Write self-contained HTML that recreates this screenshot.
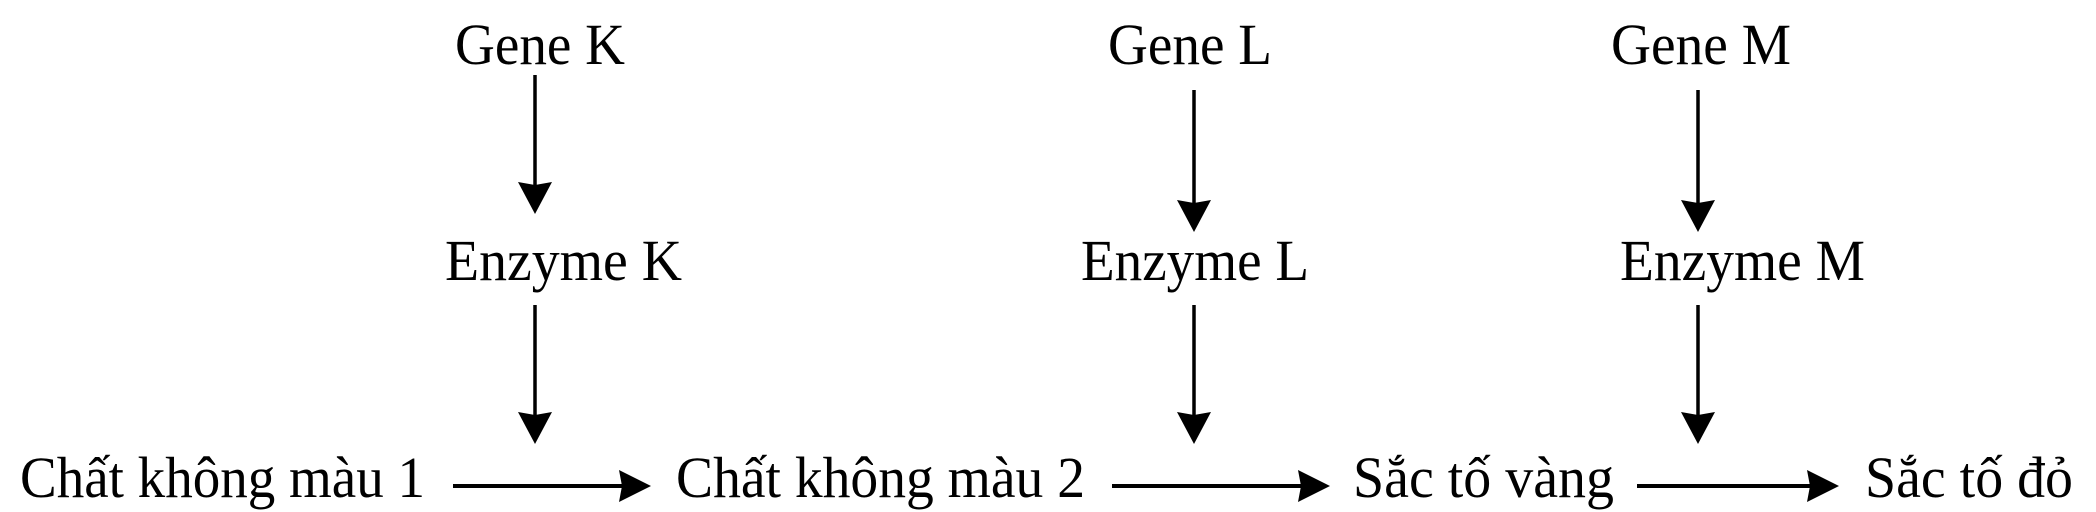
<!DOCTYPE html>
<html><head><meta charset="utf-8"><style>
html,body{margin:0;padding:0;background:#fff;}
svg{display:block;}
text{font-family:"Liberation Serif","DejaVu Serif",serif;font-size:58px;fill:#000;}
</style></head><body>
<svg width="2096" height="512" viewBox="0 0 2096 512" xmlns="http://www.w3.org/2000/svg">
<rect width="2096" height="512" fill="#fff"/>
<text x="455" y="64" textLength="170" lengthAdjust="spacingAndGlyphs">Gene K</text>
<text x="1108" y="64" textLength="164" lengthAdjust="spacingAndGlyphs">Gene L</text>
<text x="1611" y="64" textLength="180" lengthAdjust="spacingAndGlyphs">Gene M</text>
<text x="445" y="280" textLength="237" lengthAdjust="spacingAndGlyphs">Enzyme K</text>
<text x="1081" y="280" textLength="228" lengthAdjust="spacingAndGlyphs">Enzyme L</text>
<text x="1620" y="280" textLength="245" lengthAdjust="spacingAndGlyphs">Enzyme M</text>
<text x="20" y="497" textLength="405" lengthAdjust="spacingAndGlyphs">Chất không màu 1</text>
<text x="676" y="497" textLength="409" lengthAdjust="spacingAndGlyphs">Chất không màu 2</text>
<text x="1353" y="497" textLength="261" lengthAdjust="spacingAndGlyphs">Sắc tố vàng</text>
<text x="1865" y="497" textLength="208" lengthAdjust="spacingAndGlyphs">Sắc tố đỏ</text>
<g stroke="#000" stroke-width="3.5" fill="none">
<line x1="535" y1="75" x2="535" y2="190"/>
<line x1="535" y1="305" x2="535" y2="420"/>
<line x1="1194" y1="90" x2="1194" y2="205"/>
<line x1="1194" y1="305" x2="1194" y2="420"/>
<line x1="1698" y1="90" x2="1698" y2="205"/>
<line x1="1698" y1="305" x2="1698" y2="420"/>
</g>
<g stroke="#000" stroke-width="4" fill="none">
<line x1="453" y1="486" x2="625" y2="486"/>
<line x1="1112" y1="486" x2="1304" y2="486"/>
<line x1="1637" y1="486" x2="1813" y2="486"/>
</g>
<g fill="#000">
<polygon points="518,182 535,185 552,182 535,214"/>
<polygon points="518,412 535,415 552,412 535,444"/>
<polygon points="1177,200 1194,203 1211,200 1194,232"/>
<polygon points="1177,412 1194,415 1211,412 1194,444"/>
<polygon points="1681,200 1698,203 1715,200 1698,232"/>
<polygon points="1681,412 1698,415 1715,412 1698,444"/>
<polygon points="619,470 622,486 619,502 651,486"/>
<polygon points="1298,470 1301,486 1298,502 1330,486"/>
<polygon points="1807,470 1810,486 1807,502 1839,486"/>
</g>
</svg>
</body></html>
